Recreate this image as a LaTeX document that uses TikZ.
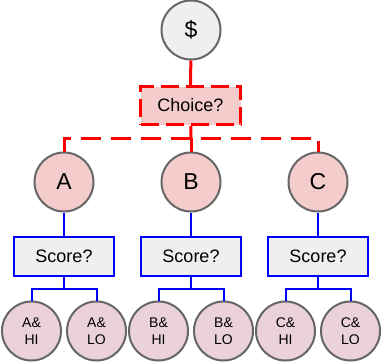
\documentclass[tikz,border=0pt]{standalone}
\usepackage{fontspec}
\setmainfont{Liberation Sans}
\usepackage{tikz}
\usetikzlibrary{positioning}
\definecolor{nodepink}{HTML}{F4CCCC}
\definecolor{leafpink}{HTML}{EAD1DC}
\definecolor{boxgray}{HTML}{EFEFEF}
\definecolor{rimgray}{HTML}{666666}
\tikzset{
  state/.style  = {circle, draw=rimgray, line width=2pt, minimum size=59pt, inner sep=0pt},
  bigtxt/.style = {font=\fontsize{23}{27}\selectfont},
  leaf/.style   = {state, fill=leafpink, align=center, font=\fontsize{14}{16.5}\selectfont},
  query/.style  = {draw=blue, line width=2pt, fill=boxgray, minimum width=100pt,
                   minimum height=39pt, font=\fontsize{18}{21}\selectfont},
  pick/.style   = {draw=red, line width=3pt, dash pattern=on 18pt off 7pt, fill=nodepink,
                   minimum width=100pt, minimum height=38pt, font=\fontsize{18}{21}\selectfont},
  redwire/.style  = {red, line width=3pt},
  bluewire/.style = {blue, line width=2pt},
}

\begin{document}
\begin{tikzpicture}[x=1pt,y=-1pt]
  \useasboundingbox (0,0) rectangle (382,362);
  \node[state, bigtxt, fill=boxgray] (dollar) at (191,30) {\$};
  \node[pick] (choice) at (190.5,105.5) {Choice?};
  \coordinate (bar) at (191,138);
  \draw[redwire] (dollar) -- (choice);
  \draw[redwire] (choice) -- (bar);
  \foreach \opt/\x in {A/64,B/191,C/318}{
    \node[state, bigtxt, fill=nodepink] (\opt) at (\x,182) {\opt};
    \node[query] (score\opt) at (\x,256) {Score?};
    \coordinate (fork\opt) at (\x,289);
    \node[leaf] (\opt hi) at (\x-32.5,331) {\opt\&\\HI};
    \node[leaf] (\opt lo) at (\x+32.5,331) {\opt\&\\LO};
    \draw[bluewire] (\opt) -- (score\opt);
    \draw[bluewire] (score\opt) -- (fork\opt);
    \draw[bluewire] (\opt hi) |- (fork\opt) -| (\opt lo);
  }
  \draw[redwire, dash pattern=on 20pt off 10pt] (A) |- (bar) -| (C);
  \draw[redwire] (bar) -- (B);
\end{tikzpicture}
\end{document}
